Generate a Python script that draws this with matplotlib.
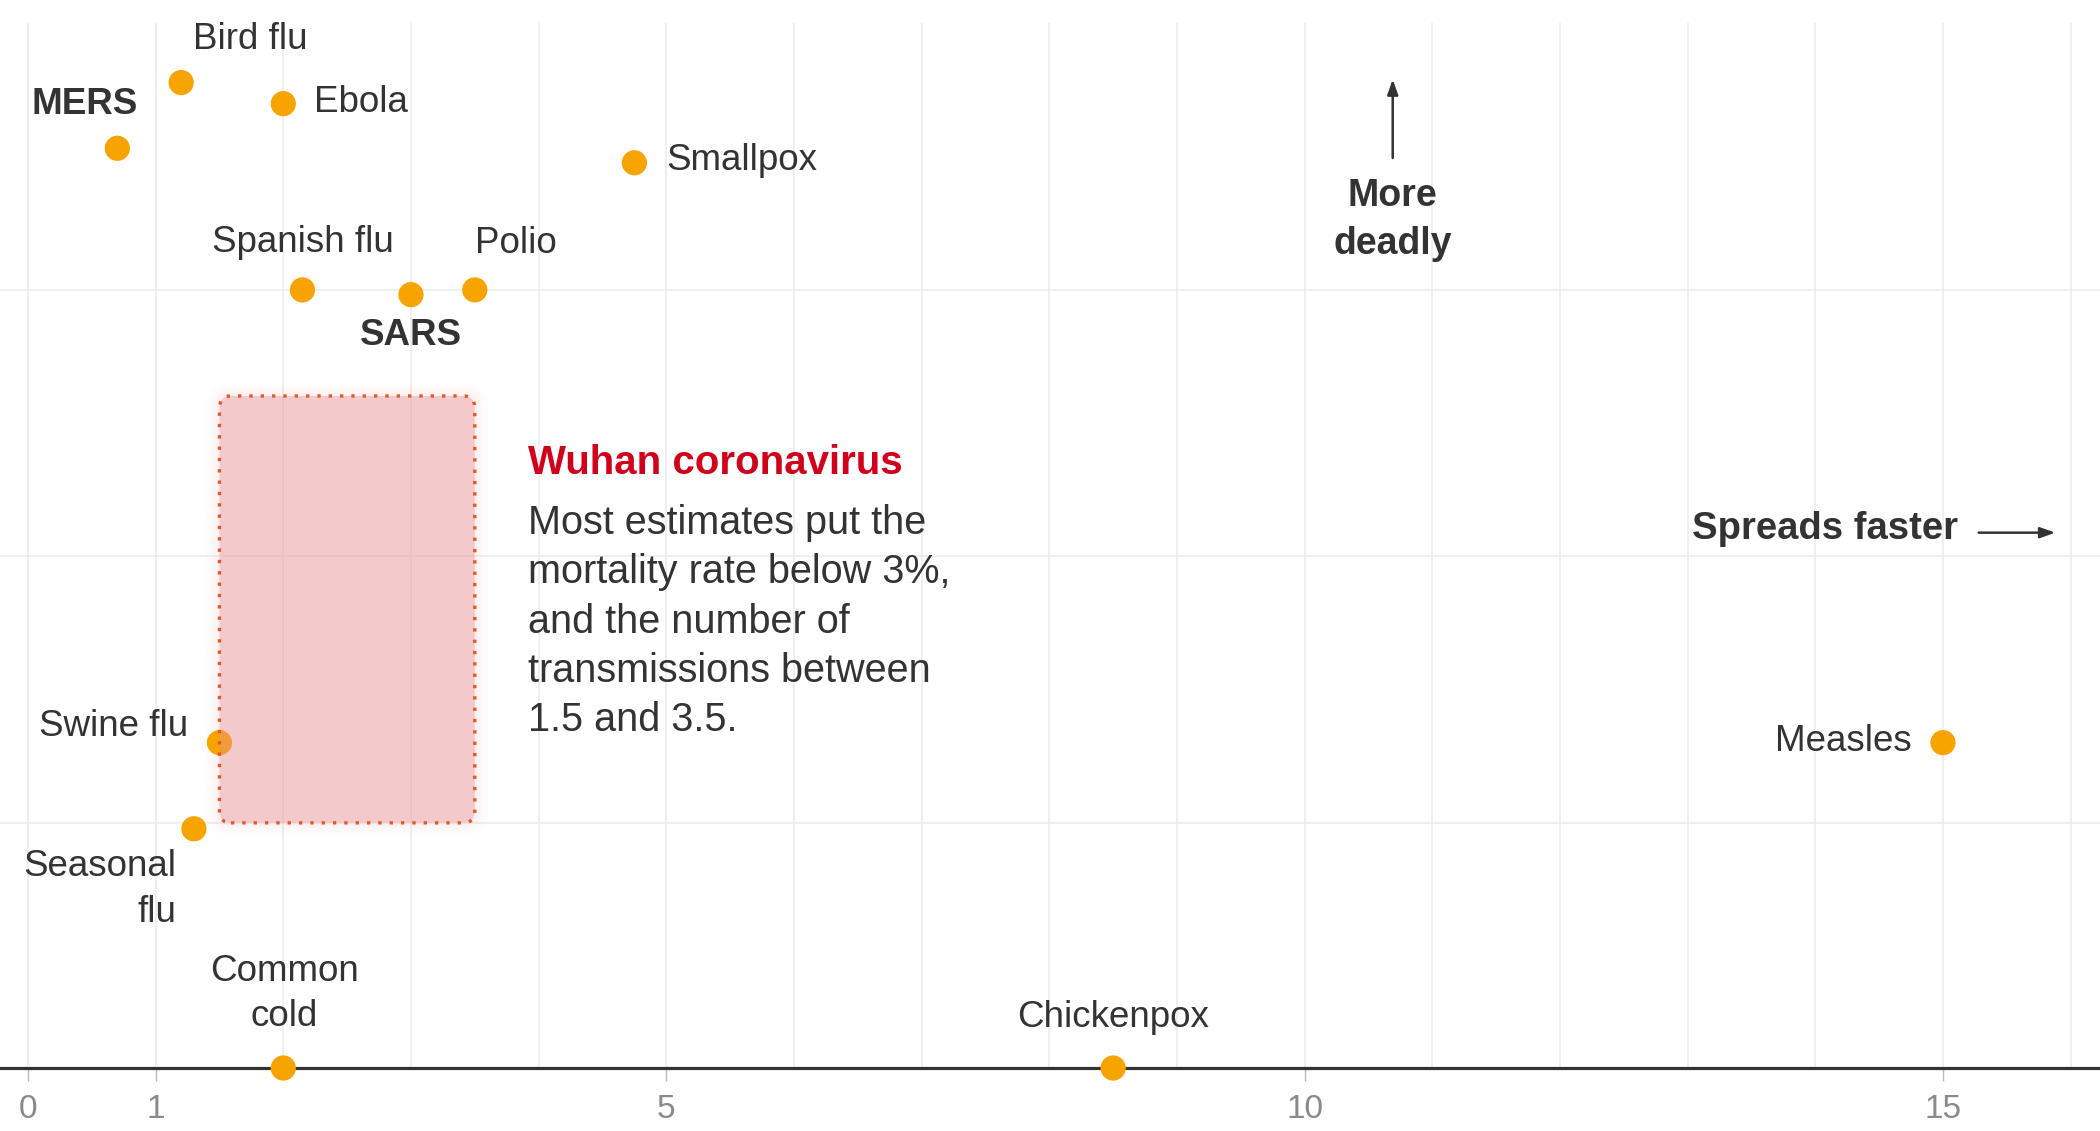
import numpy as np
import matplotlib
matplotlib.use("Agg")
import matplotlib.pyplot as plt
from matplotlib.patches import FancyBboxPatch

plt.rcParams['font.family'] = ['Liberation Sans', 'DejaVu Sans']

# transmissions (x) and fatality rate in % (y, log scale)
diseases = ["MERS", "Bird flu", "Ebola", "Smallpox", "Spanish flu", "SARS", "Polio",
            "Swine flu", "Seasonal flu", "Common cold", "Chickenpox", "Measles"]
spread = [0.7, 1.2, 2.0, 4.75, 2.15, 3.0, 3.5, 1.5, 1.3, 2.0, 8.5, 15.0]
fatality = [34, 60, 50, 30, 10, 9.6, 10, 0.2, 0.095, 0.012, 0.012, 0.2]
labels = ["MERS", "Bird flu", "Ebola", "Smallpox", "Spanish flu", "SARS", "Polio",
          "Swine flu", "Seasonal\nflu", "Common\ncold", "Chickenpox", "Measles"]

wuhan_spread = [1.5, 3.5]
wuhan_fatality = [0.1, 4.0]

xticks = [0, 1, 5, 10, 15]
ygrid = [0.1, 1, 10]

# label placement: (dx, dy) in pixels, alignment, bold
lab_pos = {
    "MERS": (-33, 44, 'center', True),
    "Bird flu": (12, 43, 'left', False),
    "Ebola": (31, 1, 'left', False),
    "Smallpox": (32, 2, 'left', False),
    "Spanish flu": (0, 47, 'center', False),
    "SARS": (0, -41, 'center', True),
    "Polio": (41, 46, 'center', False),
    "Swine flu": (-31, 16, 'right', False),
    "Seasonal flu": (-18, -61, 'right', False),
    "Common cold": (1, 74, 'center', False),
    "Chickenpox": (0, 51, 'center', False),
    "Measles": (-31, 1, 'right', False),
}

dark = '#333333'
orange = '#f7a400'
ylo, yhi = -1.92, 2.088

fig = plt.figure(figsize=(21, 11.31), dpi=100)
ax = fig.add_axes([0, 0.0557, 1, 0.9443])
ax.set_xlim(-0.219, 16.23)
ax.set_ylim(ylo, yhi)

ly = np.log10(fatality)
ly = np.clip(ly, ylo, None)

# grid
for g in ygrid:
    ax.axhline(np.log10(g), color='#ebebeb', lw=1.1, zorder=0)
ax.vlines(np.arange(0, 17), ylo, 2.0, color='#ebebeb', lw=1.1, zorder=0)

ax.scatter(spread, ly, s=330, color=orange, edgecolor='none', zorder=3, clip_on=False)

# Wuhan box with soft glow
bx, by = wuhan_spread[0], np.log10(wuhan_fatality[0])
bw = wuhan_spread[1] - wuhan_spread[0]
bh = np.log10(wuhan_fatality[1]) - by
aspect = 127.7 / 266.5
for pad, a in [(0.10, 0.03), (0.07, 0.04), (0.045, 0.05), (0.02, 0.06)]:
    ax.add_patch(FancyBboxPatch((bx, by), bw, bh, boxstyle=f"round,pad={pad},rounding_size={0.09 + pad}",
                                mutation_aspect=aspect, facecolor='#f3b5b9', edgecolor='none',
                                alpha=a, zorder=1))
ax.add_patch(FancyBboxPatch((bx, by), bw, bh, boxstyle="round,pad=0,rounding_size=0.09",
                            mutation_aspect=aspect, facecolor='#eb8f95', edgecolor='none',
                            alpha=0.4, zorder=4))
ax.add_patch(FancyBboxPatch((bx, by), bw, bh, boxstyle="round,pad=0,rounding_size=0.09",
                            mutation_aspect=aspect, facecolor='none', edgecolor='#e05a28',
                            lw=2.4, linestyle=(0, (1, 2.4)), zorder=5))

for name, lab, x, y in zip(diseases, labels, spread, ly):
    dx, dy, ha, bold = lab_pos[name]
    ax.annotate(lab, (x, y), xytext=(dx, dy), textcoords='offset pixels',
                ha=ha, va='center', fontsize=26.5, color=dark, linespacing=1.4,
                fontweight='bold' if bold else 'normal', zorder=6)

# annotation text
ax.text(3.92, 0.35, "Wuhan coronavirus", color='#d0021b', fontsize=29,
        fontweight='bold', ha='left', va='center')
ax.text(3.92, -0.245, "Most estimates put the\nmortality rate below 3%,\nand the number of\n"
        "transmissions between\n1.5 and 3.5.", color=dark, fontsize=28.5,
        ha='left', va='center', linespacing=1.38)

arrow = dict(arrowstyle='-|>,head_length=0.9,head_width=0.32', color=dark, lw=1.8,
             shrinkA=0, shrinkB=0)
ax.annotate('', xy=(10.69, 1.79), xytext=(10.69, 1.495), arrowprops=arrow)
ax.text(10.69, 1.262, "More\ndeadly", ha='center', va='center', fontsize=27,
        fontweight='bold', color=dark, linespacing=1.45)

ax.text(15.12, 0.104, "Spreads faster", ha='right', va='center', fontsize=27.5,
        fontweight='bold', color=dark)
ax.annotate('', xy=(15.88, 0.089), xytext=(15.28, 0.089), arrowprops=arrow)

# axes styling
for s in ['top', 'right', 'left']:
    ax.spines[s].set_visible(False)
ax.spines['bottom'].set_color(dark)
ax.spines['bottom'].set_linewidth(2.3)
ax.spines['bottom'].set_zorder(2)
ax.set_yticks([])
ax.set_xticks(xticks)
ax.set_xticklabels([str(t) for t in xticks])
ax.tick_params(axis='x', length=9, width=1, color='#bbbbbb', pad=10,
               labelsize=24, labelcolor='#8a8a8a')

fig.savefig('out.png', dpi=100)
